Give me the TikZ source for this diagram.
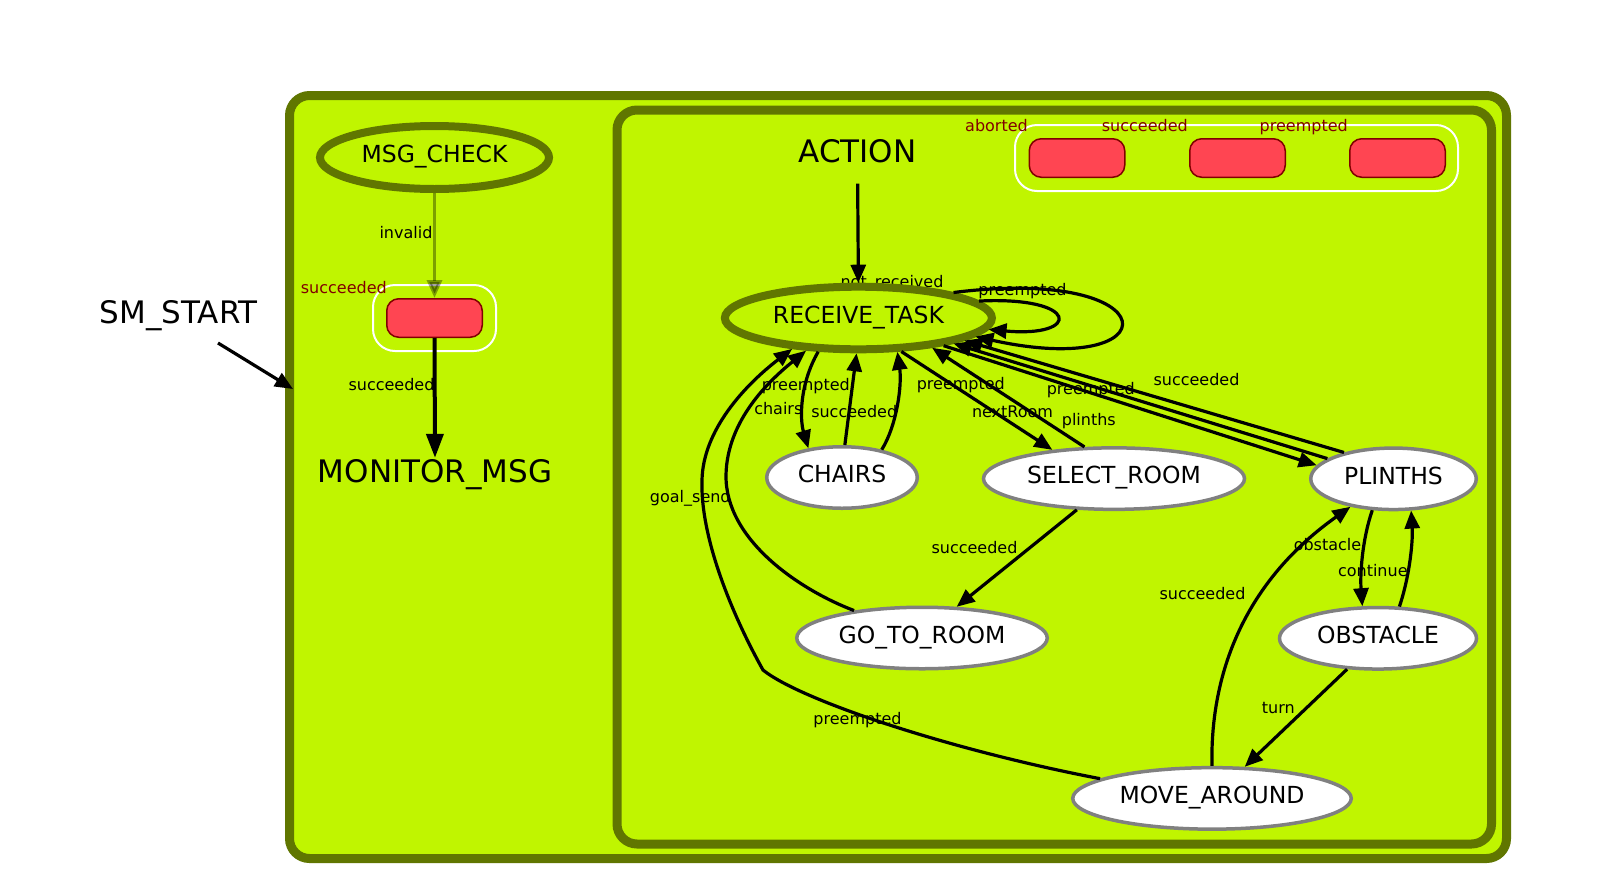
\documentclass[tikz,border=0pt]{standalone}
\usepackage{fontspec}
\setmainfont{DejaVu Sans}
\usetikzlibrary{arrows.meta,shapes.geometric}
\definecolor{lime}{RGB}{192,245,0}
\definecolor{smolive}{RGB}{96,118,0}
\definecolor{boxred}{RGB}{255,69,82}
\definecolor{boxedge}{RGB}{128,0,0}
\definecolor{outlab}{RGB}{128,0,0}
\definecolor{stategrey}{RGB}{128,128,128}
\begin{document}
\begin{tikzpicture}[x=1pt,y=-1pt,
  container/.style={draw=smolive, line width=9pt, fill=lime, rounded corners=20pt, inner sep=0pt},
  wrap/.style={draw=white, line width=2pt, rounded corners=22pt, inner sep=0pt},
  outbox/.style={draw=boxedge, fill=boxred, line width=1.5pt, rounded corners=12pt, minimum width=95.5pt, minimum height=38.5pt, inner sep=0pt},
  outlabel/.style={text=outlab, font=\fontsize{16}{19}\selectfont, inner sep=0pt, anchor=base east},
  elabel/.style={font=\fontsize{16}{19}\selectfont, inner sep=0pt, anchor=base},
  bigtitle/.style={font=\fontsize{31}{37}\selectfont, inner sep=1pt, anchor=base},
  activestate/.style={ellipse, draw=smolive, line width=8pt, fill=lime, font=\fontsize{23.5}{28}\selectfont, inner sep=0pt, text height=17.4pt, text depth=7pt},
  statenode/.style={ellipse, draw=stategrey, line width=3.5pt, fill=white, font=\fontsize{23.5}{28}\selectfont, inner sep=0pt, text height=17.4pt, text depth=7pt, minimum height=61.5pt},
  edge/.style={draw=black, line width=3.2pt, -{Triangle[length=18pt,width=15pt]}},
  fadeedge/.style={draw=black, opacity=0.35, line width=3.5pt, -{Triangle[length=18pt,width=15pt]}},
  monedge/.style={draw=black, line width=4pt, -{Triangle[length=24pt,width=17pt]}},
]
\useasboundingbox (0,0) rectangle (1607,884);
\fill[white] (0,0) rectangle (1607,884);

% containers
\node[container, minimum width=1217pt, minimum height=763pt] (sm) at (898,477) {};
\node[container, minimum width=874.5pt, minimum height=734pt] (act) at (1054.25,477) {};

% outcome wrappers and boxes
\node[wrap, minimum width=123pt, minimum height=66pt] (wrapL) at (434.5,318) {};
\node[wrap, minimum width=443pt, minimum height=66pt] (wrapR) at (1236.5,158) {};
\node[outbox] (ob0) at (434.5,318) {};
\node[outbox] (ob1) at (1077,158) {};
\node[outbox] (ob2) at (1237.5,158) {};
\node[outbox] (ob3) at (1397.5,158) {};
\node[outlabel] (olL) at (387,293) {succeeded};
\node[outlabel] (olA) at (1028,131.5) {aborted};
\node[outlabel] (olS) at (1188,131.5) {succeeded};
\node[outlabel] (olP) at (1348,131.5) {preempted};

% titles
\node[bigtitle] (smstart) at (178.5,323) {SM\_START};
\node[bigtitle] (action) at (857.5,162) {ACTION};
\node[bigtitle] (mon) at (435,482) {MONITOR\_MSG};

% edge labels
\node[elabel] (l1) at (406,238) {invalid};
\node[elabel] (l2) at (391.5,390) {succeeded};
\node[elabel] (l3) at (892,287) {not\_received};
\node[elabel] (l4) at (1022.5,295.5) {preempted};
\node[elabel] (l5) at (805.8,390.5) {preempted};
\node[elabel] (l6) at (778.3,414) {chairs};
\node[elabel] (l7) at (854.2,417) {succeeded};
\node[elabel] (l8) at (960.8,389) {preempted};
\node[elabel] (l9) at (1012.5,417.5) {nextRoom};
\node[elabel] (l10) at (1088.8,425.5) {plinths};
\node[elabel] (l11) at (1090.8,394) {preempted};
\node[elabel] (l12) at (1196.5,385.5) {succeeded};
\node[elabel] (l13) at (974.5,553) {succeeded};
\node[elabel] (l14) at (690.3,502) {goal\_send};
\node[elabel] (l15) at (857.5,724) {preempted};
\node[elabel] (l16) at (1327.5,550.5) {obstacle};
\node[elabel] (l17) at (1372.8,576) {continue};
\node[elabel] (l18) at (1202.5,599) {succeeded};
\node[elabel] (l19) at (1278.3,713.3) {turn};

% states
\node[activestate, minimum width=229pt, minimum height=63pt] (msg) at (434.5,157.5) {MSG\_CHECK};
\node[activestate, minimum width=267pt, minimum height=62.6pt] (rt) at (858.4,318) {RECEIVE\_TASK};
\node[statenode, minimum width=150.5pt] (ch) at (842,477.5) {CHAIRS};
\node[statenode, minimum width=261pt] (sr) at (1114,478.6) {SELECT\_ROOM};
\node[statenode, minimum width=165.5pt] (pl) at (1393.5,478.8) {PLINTHS};
\node[statenode, minimum width=197pt] (ob) at (1378,638.3) {OBSTACLE};
\node[statenode, minimum width=278.5pt] (ma) at (1212,798.4) {MOVE\_AROUND};
\node[statenode, minimum width=250.5pt] (gtr) at (922,638) {GO\_TO\_ROOM};

% start arrow
\coordinate (smA) at (218,343);
\coordinate (smB) at (293,389);
\draw[edge] (smA) -- (smB);

% left container edges
\draw[fadeedge] (msg.south) -- (ob0.north);
\draw[monedge] (ob0.south) -- (mon.north);

% action container edges
\draw[edge, shorten <=20pt] (action.south) -- (rt.north);
\draw[edge] (rt.8) .. controls (1081,296) and (1081,338) .. (rt.-5);
\draw[edge] (rt.15) .. controls (1172,265) and (1172,380) .. (rt.-9);
\draw[edge] (rt.-140) .. controls (799,385) and (800,420) .. (ch.139);
\draw[edge] (ch.85) -- (rt.-93);
\draw[edge] (ch.35) .. controls (897,425) and (902,385) .. (rt.-41);
\draw[edge] (rt.-38) -- (sr.155);
\draw[edge] (sr.133) -- (rt.-22);
\draw[edge] (rt.-18) -- (pl.170);
\draw[edge] (pl.163) -- (rt.-15);
\draw[edge] (pl.152) -- (rt.-12);
\draw[edge] (sr.-140) -- (gtr.42);
\draw[edge] (pl.-124) .. controls (1362,540) and (1360,575) .. (ob.116);
\draw[edge] (ob.56) .. controls (1410,575) and (1413,540) .. (pl.-61);
\draw[edge] (ob.-135) -- (ma.44);
\draw[edge] (ma.90) .. controls (1210,680) and (1240,585) .. (pl.-147);
\draw[edge] (gtr.158) .. controls (800,590) and (725,540) .. (726,475) .. controls (727,420) and (770,380) .. (rt.-148);
\draw[edge] (ma.170) .. controls (950,750) and (800,700) .. (763,670) .. controls (735,620) and (700,540) .. (702,480) .. controls (703,430) and (745,385) .. (rt.-155);
\end{tikzpicture}
\end{document}
